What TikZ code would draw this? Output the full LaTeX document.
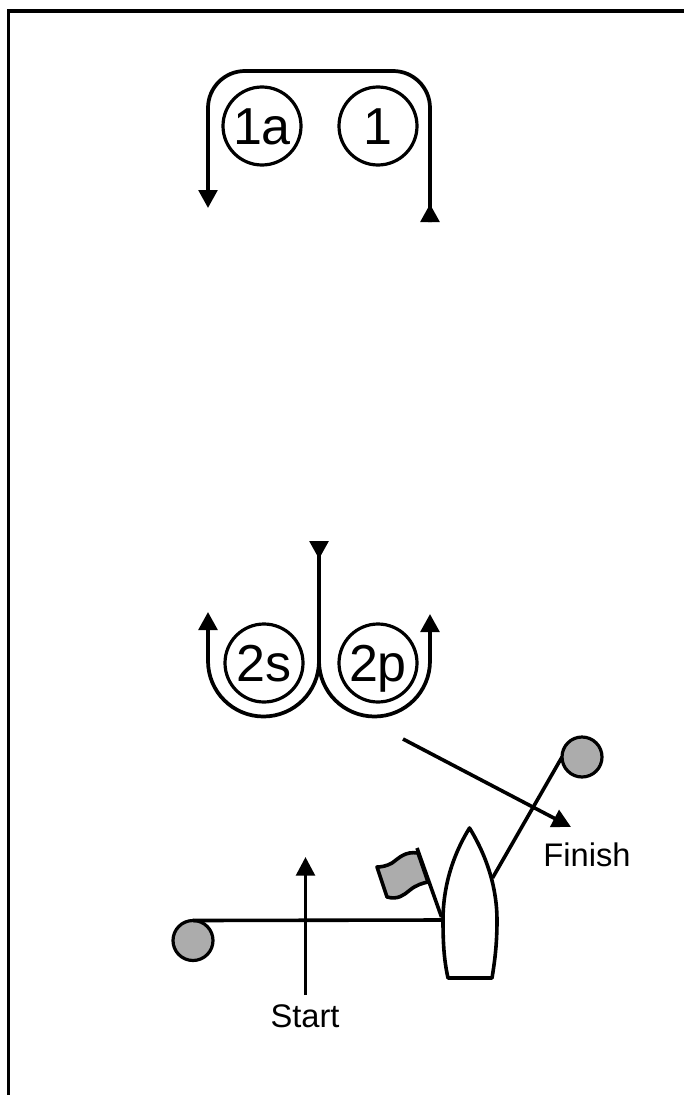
\documentclass[tikz,border=0pt]{standalone}
\usepackage{fontspec}
\setmainfont{Liberation Sans}
\usetikzlibrary{arrows.meta}

\begin{document}
\begin{tikzpicture}[x=0.75pt,y=-0.75pt]
	\tikzset{
		every node/.style={font=\fontsize{24.5}{28}\selectfont},
		course/.style={line width=2.8pt,line join=round},
		courseend/.style={course,-{Triangle[length=13.5pt,width=14pt]}},
		leg/.style={line width=2.7pt},
		buoy/.style={circle,draw,line width=2.4pt,minimum size=58.5pt,inner sep=0pt,outer sep=0pt,text height=28pt,text depth=0pt,font=\fontsize{39}{42}\selectfont},
		markbuoy/.style={circle,draw,line width=2.4pt,fill=gray!65,minimum size=30pt,inner sep=0pt,outer sep=0pt}
	}
	\useasboundingbox (0,0) rectangle (684,1095);

	% frame
	\draw [line width=2.6pt] (8.5,1095) -- (8.5,11) -- (684,11);

	% upper turn
	\node [buoy] (b1a) at (262,126) {1a};
	\node [buoy] (b1) at (378,126) {1};
	\coordinate (upperin) at (430,222);
	\coordinate (upperout) at (208,208);
	\draw [courseend] (upperin) -- (430,108) arc (0:-90:37) -- (245,71) arc (-90:-180:37) -- (upperout);
	\draw [course,{Triangle[length=13.5pt,width=14pt,reversed]}-] (upperin) -- +(0,-1);

	% lower turn
	\node [buoy] (b2s) at (264,663) {2s};
	\node [buoy] (b2p) at (378,663) {2p};
	\coordinate (lowerin) at (319,541);
	\coordinate (lowersplit) at (319,661);
	\coordinate (lowerleft) at (208,612);
	\coordinate (lowerright) at (430,614);
	\draw [course,{Triangle[length=13.5pt,width=14pt,reversed]}-] (lowerin) -- (lowersplit);
	\draw [courseend] (lowersplit) arc (0:180:55.5) -- (lowerleft);
	\draw [courseend] (lowersplit) arc (180:0:55.5) -- (lowerright);

	% boat with flag
	\coordinate (bow) at (469.5,828);
	\coordinate (sternleft) at (448,978);
	\coordinate (sternright) at (492,978);
	\coordinate (pole) at (441.5,917);
	\coordinate (poletop) at (417,848);
	\coordinate (boatleft) at (443,920);
	\coordinate (boatright) at (492.5,878);
	\draw [leg,fill=gray!65,line join=round] (418,853) .. controls (405,851) and (399,858) .. (392,863) .. controls (387,866) and (381,867) .. (377,867) -- (387,897) .. controls (398,900) and (404,895) .. (410,890) .. controls (416,885) and (423,883) .. (428,882) -- cycle;
	\draw [leg] (pole) -- (poletop);
	\draw [leg,fill=white,line join=round] (bow) .. controls (451,858) and (443,890) .. (443,920) .. controls (443,943) and (444,960) .. (sternleft) -- (sternright) .. controls (495,960) and (497,943) .. (497,920) .. controls (497,890) and (488,858) .. (bow) -- cycle;

	% finish
	\node [markbuoy] (markfinish) at (582,757) {};
	\draw [leg] (markfinish.180) -- (boatright);
	\coordinate (finishfrom) at (403,739);
	\node (finishtext) at (587,855) {Finish};
	\draw [leg,-{Triangle[length=14pt,width=14pt]}] (finishfrom) -- (571,827);

	% start
	\node [markbuoy] (markstart) at (193,940.5) {};
	\draw [leg] (markstart.north) -- (boatleft);
	\node (starttext) at (305,1016) {Start};
	\coordinate (startfrom) at (305.5,995);
	\coordinate (startto) at (305.5,857);
	\draw [leg,-{Triangle[length=14pt,width=14pt]}] (startfrom) -- (startto);
\end{tikzpicture}
\end{document}
